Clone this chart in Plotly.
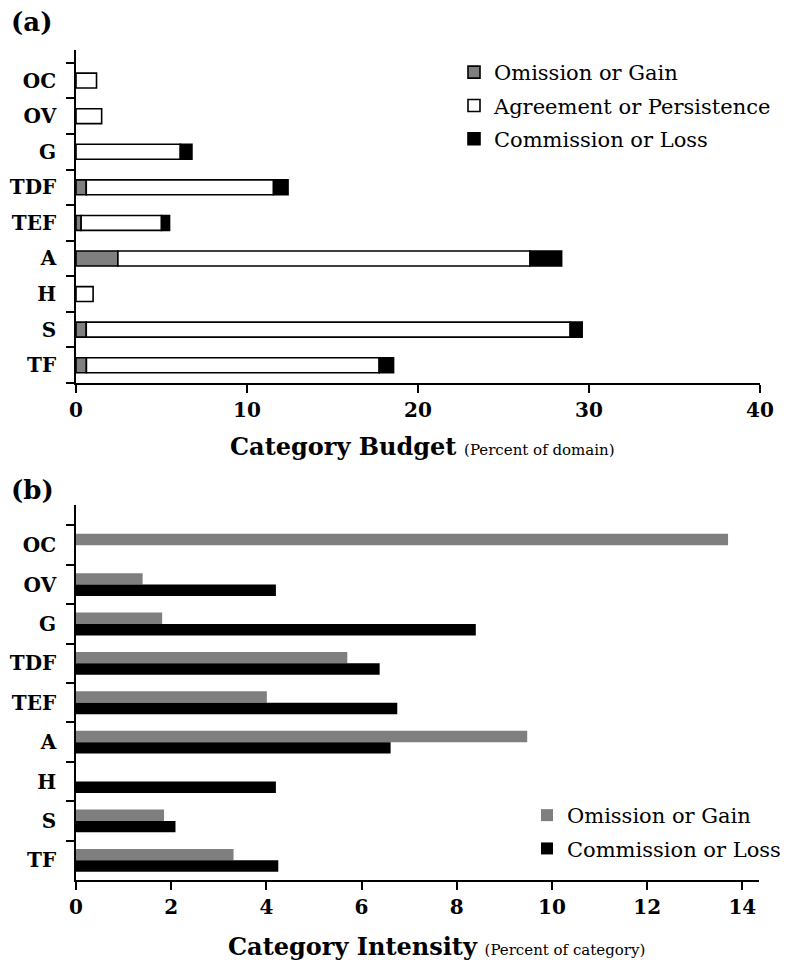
import plotly.graph_objects as go

# ---------------- data ----------------
categories = ["TF", "S", "H", "A", "TEF", "TDF", "G", "OV", "OC"]  # bottom -> top

budget_gain = [0.61, 0.6, None, 2.45, 0.3, 0.6, None, None, None]
budget_persistence = [17.12, 28.3, 1.0, 24.1, 4.7, 10.95, 6.1, 1.5, 1.2]
budget_loss = [0.84, 0.7, None, 1.85, 0.47, 0.85, 0.68, None, None]

intensity_gain = [3.31, 1.85, 0, 9.48, 4.01, 5.70, 1.81, 1.40, 13.7]
intensity_loss = [4.25, 2.09, 4.20, 6.61, 6.75, 6.38, 8.40, 4.20, 0]

budget_ticks = [0, 10, 20, 30, 40]
intensity_ticks = [0, 2, 4, 6, 8, 10, 12, 14]

GREY = "#7f7f7f"
FONT = "DejaVu Serif"

W, H = 786, 968


def px_x(p):
    return p / W


def px_y(p):
    return 1 - p / H


# stacked bases computed from the data
base_persist = [(g or 0) for g in budget_gain]
base_loss = [(g or 0) + p for g, p in zip(budget_gain, budget_persistence)]

fig = go.Figure()
line = dict(color="black", width=1.6)

fig.add_trace(go.Bar(y=categories, x=budget_gain, orientation="h", name="Omission or Gain",
                     marker=dict(color=GREY, line=line), width=0.42, legendgroup="a1",
                     xaxis="x", yaxis="y", legend="legend"))
fig.add_trace(go.Bar(y=categories, x=budget_persistence, base=base_persist, orientation="h",
                     name="Agreement or Persistence", legendgroup="a2",
                     marker=dict(color="white", line=line), width=0.42,
                     xaxis="x", yaxis="y", legend="legend"))
fig.add_trace(go.Bar(y=categories, x=budget_loss, base=base_loss, orientation="h",
                     name="Commission or Loss", legendgroup="a3",
                     marker=dict(color="black", line=line), width=0.42,
                     xaxis="x", yaxis="y", legend="legend"))

fig.add_trace(go.Bar(y=categories, x=intensity_gain, orientation="h", name="Omission or Gain",
                     marker=dict(color=GREY, line=dict(width=0)), width=0.29, offset=0.0,
                     legendgroup="b1", xaxis="x2", yaxis="y2", legend="legend2"))
fig.add_trace(go.Bar(y=categories, x=intensity_loss, orientation="h", name="Commission or Loss",
                     marker=dict(color="black", line=dict(width=0)), width=0.29, offset=-0.29,
                     legendgroup="b2", xaxis="x2", yaxis="y2", legend="legend2"))

axis_common = dict(showline=True, linecolor="black", linewidth=1.6, ticks="outside",
                   ticklen=8, tickwidth=1.6, tickcolor="black", showgrid=False,
                   zeroline=False, automargin=False)
xtickfont = dict(family=FONT, size=20, color="black", weight="bold")
ytickfont = dict(family=FONT, size=20, color="black", weight="bold")

fig.update_layout(
    width=W, height=H,
    margin=dict(l=0, r=0, t=0, b=0),
    paper_bgcolor="white", plot_bgcolor="white",
    barmode="overlay",
    font=dict(family=FONT, color="black"),
    xaxis=dict(domain=[px_x(76), px_x(760)], anchor="y", range=[0, 40],
               tickvals=budget_ticks, tickfont=xtickfont, **axis_common),
    yaxis=dict(domain=[px_y(383), px_y(50)], anchor="x", type="category",
               categoryarray=categories, categoryorder="array",
               range=[-0.5, 8.86], tickson="boundaries", ticklabelstandoff=14,
               tickfont=ytickfont, **axis_common),
    xaxis2=dict(domain=[px_x(76), px_x(759)], anchor="y2", range=[0, 14.35],
                tickvals=intensity_ticks, tickfont=xtickfont, **axis_common),
    yaxis2=dict(domain=[px_y(880), px_y(505)], anchor="x2", type="category",
                categoryarray=categories, categoryorder="array",
                range=[-0.5, 9.02], tickson="boundaries", ticklabelstandoff=14,
                tickfont=ytickfont, **axis_common),
    legend=dict(x=px_x(454), y=px_y(52), xanchor="left", yanchor="top",
                traceorder="grouped", tracegroupgap=3, bgcolor="rgba(0,0,0,0)",
                font=dict(family=FONT, size=21, color="black")),
    legend2=dict(x=px_x(527), y=px_y(795), xanchor="left", yanchor="top",
                 traceorder="grouped", tracegroupgap=3, bgcolor="rgba(0,0,0,0)",
                 font=dict(family=FONT, size=21, color="black")),
    showlegend=True,
)

fig.add_annotation(text="<b>(a)</b>", x=px_x(9), y=px_y(22), xref="paper", yref="paper",
                   xanchor="left", yanchor="middle", showarrow=False,
                   font=dict(family=FONT, size=26, color="black"))
fig.add_annotation(text="<b>(b)</b>", x=px_x(9), y=px_y(490), xref="paper", yref="paper",
                   xanchor="left", yanchor="middle", showarrow=False,
                   font=dict(family=FONT, size=26, color="black"))
fig.add_annotation(text="<b>Category Budget</b> <span style='font-size:15px'>(Percent of domain)</span>",
                   x=px_x(228), y=px_y(446), xref="paper", yref="paper",
                   xanchor="left", yanchor="middle", showarrow=False,
                   font=dict(family=FONT, size=24, color="black"))
fig.add_annotation(text="<b>Category Intensity</b> <span style='font-size:15px'>(Percent of category)</span>",
                   x=px_x(226), y=px_y(946), xref="paper", yref="paper",
                   xanchor="left", yanchor="middle", showarrow=False,
                   font=dict(family=FONT, size=24, color="black"))

# remove the browser's default body margin so the figure fills the window exactly
fig.write_html("out.html",
               config={"displayModeBar": False},
               post_script="document.body.style.margin='0';document.body.style.overflow='hidden';")
